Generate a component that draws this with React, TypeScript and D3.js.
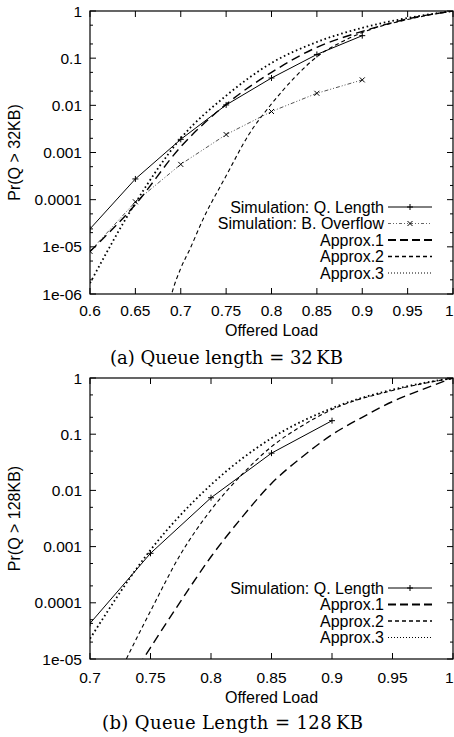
import React from 'react';
import * as d3 from 'd3';

const SANS = '"Liberation Sans", Arial, Helvetica, sans-serif';
const SERIF = '"DejaVu Serif", "Liberation Serif", serif';

// ---------- Panel (a): Queue length = 32 KB ----------
const loadA = [0.6, 0.65, 0.7, 0.75, 0.8, 0.85, 0.9];
const simQLengthA = [2.4e-5, 2.75e-4, 1.9e-3, 0.0102, 0.038, 0.12, 0.3];
const simBOverflowA = [8e-6, 9e-5, 5.6e-4, 2.4e-3, 0.0074, 0.018, 0.0346];
const approx1LoadA = [0.6, 0.65, 0.7, 0.75, 0.8, 0.85, 0.9, 0.95, 1];
const approx1A = [8e-6, 7.9e-5, 1.32e-3, 0.0105, 0.05, 0.17, 0.37, 0.68, 1];
const approx2LoadA = [0.685, 0.69, 0.7, 0.71, 0.725, 0.75, 0.775, 0.8, 0.825, 0.85, 0.875, 0.9, 0.95, 1];
const approx2A = [4e-7, 1e-6, 3.5e-6, 8.9e-6, 4e-5, 3.2e-4, 2.4e-3, 0.0107, 0.038, 0.107, 0.21, 0.35, 0.66, 1];
const approx3LoadA = [0.6, 0.65, 0.7, 0.75, 0.8, 0.85, 0.9, 0.95, 1];
const approx3A = [1.7e-6, 8.5e-5, 2e-3, 0.016, 0.079, 0.22, 0.44, 0.71, 1];
const xTicksA = [0.6, 0.65, 0.7, 0.75, 0.8, 0.85, 0.9, 0.95, 1];
const xTickLabelsA = ['0.6', '0.65', '0.7', '0.75', '0.8', '0.85', '0.9', '0.95', '1'];
const yTicksA = [1, 0.1, 0.01, 0.001, 0.0001, 1e-5, 1e-6];
const yTickLabelsA = ['1', '0.1', '0.01', '0.001', '0.0001', '1e-05', '1e-06'];

// ---------- Panel (b): Queue Length = 128 KB ----------
const loadB = [0.7, 0.75, 0.8, 0.85, 0.9];
const simQLengthB = [4.3e-5, 7.6e-4, 7.4e-3, 0.046, 0.174];
const approx1LoadB = [0.74, 0.75, 0.775, 0.8, 0.825, 0.85, 0.875, 0.9, 0.925, 0.95, 0.975, 1];
const approx1B = [7.4e-6, 1.6e-5, 1.07e-4, 6.6e-4, 3.2e-3, 0.0133, 0.039, 0.098, 0.2, 0.38, 0.63, 1];
const approx2LoadB = [0.725, 0.73, 0.75, 0.775, 0.8, 0.825, 0.85, 0.875, 0.9, 0.95, 1];
const approx2B = [6e-6, 1e-5, 7.1e-5, 7.4e-4, 4.5e-3, 0.0186, 0.06, 0.14, 0.275, 0.6, 1];
const approx3LoadB = [0.7, 0.75, 0.8, 0.85, 0.9, 0.95, 1];
const approx3B = [2.3e-5, 8.7e-4, 0.0126, 0.085, 0.29, 0.62, 1];
const xTicksB = [0.7, 0.75, 0.8, 0.85, 0.9, 0.95, 1];
const xTickLabelsB = ['0.7', '0.75', '0.8', '0.85', '0.9', '0.95', '1'];
const yTicksB = [1, 0.1, 0.01, 0.001, 0.0001, 1e-5];
const yTickLabelsB = ['1', '0.1', '0.01', '0.001', '0.0001', '1e-05'];

type StyleKey = 'simQ' | 'simB' | 'a1' | 'a2' | 'a3';

const lineStyles: Record<StyleKey, { stroke: string; width: number; dash: string }> = {
  simQ: { stroke: '#000', width: 1, dash: '' },
  simB: { stroke: '#555', width: 1, dash: '4,2,1,2,1,2' },
  a1: { stroke: '#000', width: 1.4, dash: '9,5' },
  a2: { stroke: '#000', width: 1.1, dash: '4,3' },
  a3: { stroke: '#000', width: 1.8, dash: '1.6,2.8' },
};

const legendStyles: Record<StyleKey, { stroke: string; width: number; dash: string }> = {
  simQ: { stroke: '#000', width: 1, dash: '' },
  simB: { stroke: '#666', width: 1, dash: '3,2,1,2,1,2' },
  a1: { stroke: '#000', width: 2, dash: '8,4' },
  a2: { stroke: '#000', width: 1.4, dash: '4,3' },
  a3: { stroke: '#000', width: 1, dash: '1,2' },
};

interface Series {
  key: StyleKey;
  label: string;
  xs: number[];
  ys: number[];
  marker?: 'plus' | 'cross';
  smooth: boolean;
}

interface PanelProps {
  id: string;
  top: number;
  bottom: number;
  left: number;
  right: number;
  xDomain: [number, number];
  yDomain: [number, number];
  xTicks: number[];
  xTickLabels: string[];
  yTicks: number[];
  yTickLabels: string[];
  yLabel: string;
  series: Series[];
  legendTop: number;
  tickLabelBaseline: number;
  xLabelBaseline: number;
  caption: string;
  captionX: number;
  captionWidth: number;
  captionBaseline: number;
}

const markerPath = (kind: 'plus' | 'cross', x: number, y: number) =>
  kind === 'plus'
    ? `M${x - 3},${y}h6M${x},${y - 3}v6`
    : `M${x - 2.5},${y - 2.5}l5,5M${x - 2.5},${y + 2.5}l5,-5`;

function Panel(p: PanelProps) {
  const x = d3.scaleLinear().domain(p.xDomain).range([p.left, p.right]);
  const y = d3.scaleLog().domain(p.yDomain).range([p.bottom, p.top]);
  const minor: number[] = [];
  const lo = Math.round(Math.log10(p.yDomain[0]));
  const hi = Math.round(Math.log10(p.yDomain[1]));
  for (let k = lo; k < hi; k++) {
    [2, 5].forEach((m) => minor.push(m * Math.pow(10, k)));
  }
  const clipId = `clip-${p.id}`;
  const legendX = 384;
  const sampleX0 = 388;
  const sampleX1 = 432;
  const rowH = 16.5;
  return (
    <g>
      <defs>
        <clipPath id={clipId}>
          <rect x={p.left} y={p.top} width={p.right - p.left} height={p.bottom - p.top} />
        </clipPath>
      </defs>
      {/* ticks */}
      <g stroke="#000" strokeWidth={1}>
        {p.xTicks.map((t, i) => (
          <g key={`xt${i}`}>
            <line x1={x(t)} x2={x(t)} y1={p.bottom} y2={p.bottom - 6} />
            <line x1={x(t)} x2={x(t)} y1={p.top} y2={p.top + 6} />
          </g>
        ))}
        {p.yTicks.map((t, i) => (
          <g key={`yt${i}`}>
            <line x1={p.left} x2={p.left + 6} y1={y(t)} y2={y(t)} />
            <line x1={p.right} x2={p.right - 6} y1={y(t)} y2={y(t)} />
          </g>
        ))}
        {minor.map((t, i) => (
          <g key={`ym${i}`}>
            <line x1={p.left} x2={p.left + 3} y1={y(t)} y2={y(t)} />
            <line x1={p.right} x2={p.right - 3} y1={y(t)} y2={y(t)} />
          </g>
        ))}
      </g>
      {/* series */}
      <g clipPath={`url(#${clipId})`} fill="none">
        {p.series.map((s) => {
          const pts: [number, number][] = s.xs.map((v, i) => [x(v), y(s.ys[i])]);
          const gen = d3.line().curve(s.smooth ? d3.curveMonotoneX : d3.curveLinear);
          const st = lineStyles[s.key];
          return (
            <g key={s.key}>
              <path d={gen(pts) || ''} stroke={st.stroke} strokeWidth={st.width} strokeDasharray={st.dash} />
              {s.marker &&
                pts.map((pt, i) => (
                  <path key={i} d={markerPath(s.marker!, pt[0], pt[1])} stroke="#000" strokeWidth={1} />
                ))}
            </g>
          );
        })}
      </g>
      {/* frame */}
      <rect x={p.left} y={p.top} width={p.right - p.left} height={p.bottom - p.top} fill="none" stroke="#000" strokeWidth={1.2} />
      {/* tick labels */}
      <g fontFamily={SANS} fontSize={15.5} fill="#000">
        {p.xTicks.map((t, i) => {
          const last = i === p.xTicks.length - 1;
          return (
            <text key={`xl${i}`} x={last ? 453.5 : x(t)} y={p.tickLabelBaseline} textAnchor={last ? 'end' : 'middle'}>
              {p.xTickLabels[i]}
            </text>
          );
        })}
        {p.yTicks.map((t, i) => (
          <text key={`yl${i}`} x={82} y={y(t)} dy="0.36em" textAnchor="end">
            {p.yTickLabels[i]}
          </text>
        ))}
      </g>
      <text x={(p.left + p.right) / 2} y={p.xLabelBaseline} textAnchor="middle" fontFamily={SANS} fontSize={16}>
        Offered Load
      </text>
      <text
        transform={`translate(20,${(p.top + p.bottom) / 2}) rotate(-90)`}
        textAnchor="middle"
        fontFamily={SANS}
        fontSize={16}
      >
        {p.yLabel}
      </text>
      {/* legend */}
      <g fontFamily={SANS} fontSize={16}>
        {p.series.map((s, i) => {
          const cy = p.legendTop + i * rowH;
          const st = legendStyles[s.key];
          return (
            <g key={`lg${i}`}>
              <text x={legendX} y={cy} dy="0.36em" textAnchor="end">
                {s.label}
              </text>
              <line x1={sampleX0} x2={sampleX1} y1={cy} y2={cy} stroke={st.stroke} strokeWidth={st.width} strokeDasharray={st.dash} />
              {s.marker && <path d={markerPath(s.marker, (sampleX0 + sampleX1) / 2, cy)} stroke="#000" strokeWidth={1} fill="none" />}
            </g>
          );
        })}
      </g>
      {/* caption */}
      <text
        x={p.captionX}
        y={p.captionBaseline}
        fontFamily={SERIF}
        fontSize={18}
        textLength={p.captionWidth}
        lengthAdjust="spacing"
      >
        {p.caption}
      </text>
    </g>
  );
}

export default function App() {
  const seriesA: Series[] = [
    { key: 'simQ', label: 'Simulation: Q. Length', xs: loadA, ys: simQLengthA, marker: 'plus', smooth: false },
    { key: 'simB', label: 'Simulation: B. Overflow', xs: loadA, ys: simBOverflowA, marker: 'cross', smooth: false },
    { key: 'a1', label: 'Approx.1', xs: approx1LoadA, ys: approx1A, smooth: true },
    { key: 'a2', label: 'Approx.2', xs: approx2LoadA, ys: approx2A, smooth: true },
    { key: 'a3', label: 'Approx.3', xs: approx3LoadA, ys: approx3A, smooth: true },
  ];
  const seriesB: Series[] = [
    { key: 'simQ', label: 'Simulation: Q. Length', xs: loadB, ys: simQLengthB, marker: 'plus', smooth: false },
    { key: 'a1', label: 'Approx.1', xs: approx1LoadB, ys: approx1B, smooth: true },
    { key: 'a2', label: 'Approx.2', xs: approx2LoadB, ys: approx2B, smooth: true },
    { key: 'a3', label: 'Approx.3', xs: approx3LoadB, ys: approx3B, smooth: true },
  ];
  return (
    <svg
      width={454}
      height={737}
      viewBox="0 0 454 737"
      style={{ position: 'absolute', left: 0, top: 0, background: '#fff' }}
    >
      <rect x={0} y={0} width={454} height={737} fill="#fff" />
      <Panel
        id="a"
        top={11}
        bottom={294}
        left={90}
        right={453}
        xDomain={[0.6, 1]}
        yDomain={[1e-6, 1]}
        xTicks={xTicksA}
        xTickLabels={xTickLabelsA}
        yTicks={yTicksA}
        yTickLabels={yTickLabelsA}
        yLabel="Pr(Q > 32KB)"
        series={seriesA}
        legendTop={207}
        tickLabelBaseline={316}
        xLabelBaseline={336}
        caption={'(a) Queue length = 32\u2009KB'}
        captionX={110}
        captionWidth={233}
        captionBaseline={364}
      />
      <Panel
        id="b"
        top={378}
        bottom={659}
        left={90}
        right={453}
        xDomain={[0.7, 1]}
        yDomain={[1e-5, 1]}
        xTicks={xTicksB}
        xTickLabels={xTickLabelsB}
        yTicks={yTicksB}
        yTickLabels={yTickLabelsB}
        yLabel="Pr(Q > 128KB)"
        series={seriesB}
        legendTop={588}
        tickLabelBaseline={682.5}
        xLabelBaseline={703}
        caption={'(b) Queue Length = 128\u2009KB'}
        captionX={102}
        captionWidth={261}
        captionBaseline={729}
      />
    </svg>
  );
}
